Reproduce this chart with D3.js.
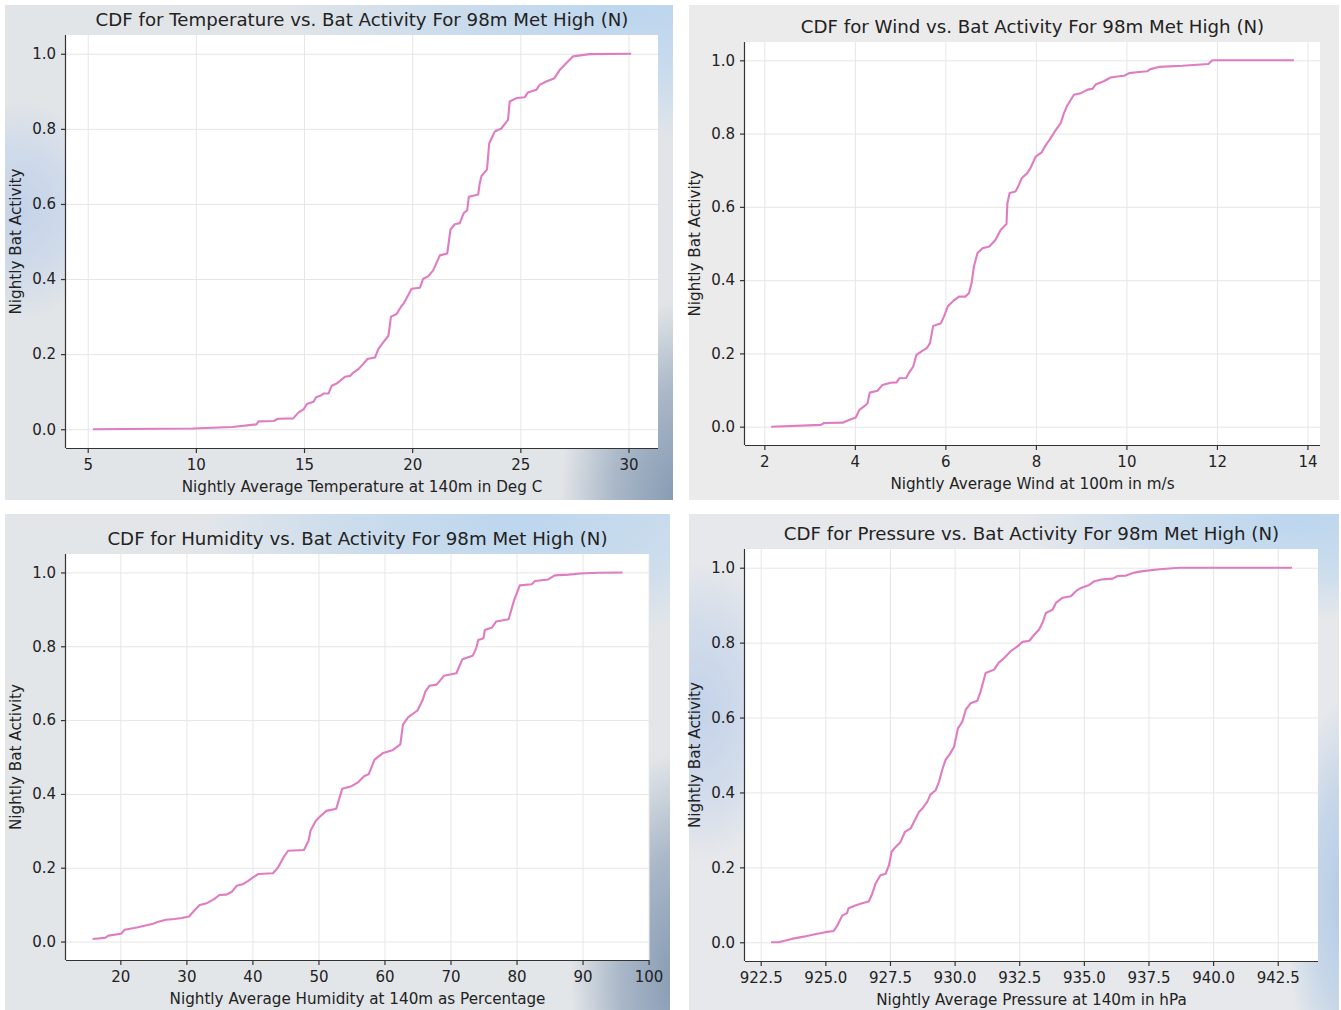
<!DOCTYPE html>
<html>
<head>
<meta charset="utf-8">
<script src="https://cdn.jsdelivr.net/npm/d3@7"></script>
<style>
    body { margin: 0; background: #ffffff; }
    svg { display: block; }
    .axis text { font-family: "DejaVu Sans", sans-serif; font-size: 15px; fill: #222; }
    .axis path, .axis line { stroke: #333; stroke-width: 1.2; }
    .grid line { stroke: #e6e6e6; stroke-width: 1; }
    .grid path { display: none; }
    .title, .label { font-family: "DejaVu Sans", sans-serif; fill: #222; }
    .title { font-size: 18.2px; }
    .label { font-size: 15.2px; }
</style>
</head>
<body>
<div id="chart"></div>
<script>

// CDF values (x value, cumulative share of nightly bat activity)
const tempX = [5.24, 9.85, 11.7, 12.8, 12.9, 13.6, 13.8, 14.5, 14.75, 14.98, 15.13, 15.44, 15.56, 15.75, 15.9, 16.13,
    16.28, 16.51, 16.67, 16.9, 17.13, 17.28, 17.51, 17.74, 17.93, 18.28, 18.44, 18.67, 18.9, 19.02, 19.28, 19.47,
    19.62, 19.77, 19.97, 20.36, 20.51, 20.74, 20.97, 21.28, 21.62, 21.77, 21.97, 22.2, 22.39, 22.54, 22.62, 23.05,
    23.12, 23.2, 23.46, 23.56, 23.82, 24.12, 24.43, 24.51, 24.82, 25.2, 25.35, 25.74, 25.89, 26.2, 26.58, 26.82,
    27.12, 27.43, 28.2, 30.12];
const tempY = [0, 0.002, 0.006, 0.013, 0.021, 0.022, 0.028, 0.029, 0.045, 0.053, 0.067, 0.073, 0.085, 0.089, 0.095, 0.095,
    0.116, 0.122, 0.129, 0.14, 0.142, 0.151, 0.16, 0.174, 0.187, 0.191, 0.214, 0.232, 0.249, 0.3, 0.307, 0.325,
    0.336, 0.352, 0.374, 0.377, 0.401, 0.407, 0.423, 0.463, 0.468, 0.532, 0.546, 0.549, 0.576, 0.583, 0.619, 0.625,
    0.654, 0.674, 0.692, 0.761, 0.793, 0.801, 0.824, 0.873, 0.882, 0.884, 0.897, 0.904, 0.917, 0.926, 0.935, 0.957,
    0.975, 0.993, 0.999, 1.0];

const windX = [2.15, 3.25, 3.32, 3.73, 3.87, 4.02, 4.1, 4.21, 4.28, 4.33, 4.5, 4.61, 4.79, 4.92, 4.98, 5.13, 5.2,
    5.29, 5.36, 5.49, 5.6, 5.66, 5.73, 5.9, 5.97, 6.05, 6.18, 6.3, 6.44, 6.52, 6.58, 6.63, 6.71, 6.82, 6.97, 7.11,
    7.22, 7.35, 7.37, 7.42, 7.55, 7.61, 7.69, 7.81, 7.88, 8.0, 8.13, 8.2, 8.3, 8.42, 8.55, 8.62, 8.69, 8.84, 9.01,
    9.14, 9.25, 9.32, 9.5, 9.65, 9.8, 9.95, 10.06, 10.28, 10.46, 10.53, 10.72, 11.24, 11.81, 11.9, 13.7];
const windY = [0, 0.005, 0.01, 0.011, 0.018, 0.025, 0.046, 0.056, 0.064, 0.093, 0.098, 0.114, 0.12, 0.121, 0.132, 0.133, 0.148,
    0.164, 0.196, 0.207, 0.216, 0.228, 0.275, 0.282, 0.301, 0.328, 0.344, 0.355, 0.355, 0.364, 0.392, 0.437, 0.474, 0.487, 0.492, 0.51,
    0.537, 0.553, 0.61, 0.638, 0.642, 0.656, 0.679, 0.692, 0.706, 0.738, 0.749, 0.765, 0.783, 0.806, 0.829, 0.856, 0.876, 0.906, 0.911,
    0.92, 0.922, 0.934, 0.943, 0.953, 0.956, 0.958, 0.965, 0.968, 0.97, 0.976, 0.982, 0.985, 0.99, 1.0, 1.0];

const humX = [15.78, 17.68, 18.2, 20.1, 20.65, 22.5, 24.97, 25.5, 26.9, 28.2, 29.3, 30.4, 31.2, 32.0, 33.1, 34.2, 35.0,
    36.05, 36.9, 37.6, 38.5, 39.3, 40.1, 40.9, 43.1, 43.9, 44.7, 45.4, 47.8, 48.5, 48.8, 49.6, 50.2, 51.2, 52.7, 53.6,
    55.0, 56.05, 56.9, 57.6, 58.5, 59.8, 61.2, 62.4, 62.8, 63.6, 65.0, 65.8, 66.2, 66.8, 67.9, 69.0, 70.9, 71.8, 73.35,
    73.9, 74.2, 75.0, 75.2, 76.3, 76.9, 78.8, 79.2, 79.6, 80.5, 82.3, 82.8, 84.8, 85.8, 87.9, 89.6, 92.3, 96.05];
const humY = [0.007, 0.01, 0.016, 0.021, 0.032, 0.038, 0.048, 0.052, 0.059, 0.061, 0.064, 0.068, 0.084, 0.099, 0.104, 0.115, 0.126,
    0.127, 0.135, 0.151, 0.155, 0.164, 0.174, 0.183, 0.185, 0.201, 0.228, 0.246, 0.248, 0.273, 0.3, 0.327, 0.338, 0.354, 0.36, 0.414,
    0.421, 0.432, 0.448, 0.453, 0.493, 0.511, 0.518, 0.534, 0.588, 0.608, 0.626, 0.655, 0.678, 0.693, 0.696, 0.72, 0.727, 0.765, 0.774,
    0.795, 0.817, 0.822, 0.844, 0.851, 0.867, 0.873, 0.898, 0.923, 0.965, 0.968, 0.977, 0.981, 0.992, 0.994, 0.997, 0.999, 1.0];

const presX = [922.9, 923.19, 923.7, 924.16, 924.55, 925.0, 925.32, 925.45, 925.65, 925.84, 925.9, 926.16, 926.42, 926.68,
    926.81, 926.94, 927.13, 927.33, 927.46, 927.56, 927.71, 927.91, 928.08, 928.3, 928.46, 928.62, 928.75, 928.94, 929.07,
    929.27, 929.4, 929.52, 929.65, 929.82, 929.98, 930.13, 930.3, 930.43, 930.62, 930.88, 931.01, 931.2, 931.53, 931.7,
    931.92, 932.17, 932.43, 932.63, 932.89, 933.08, 933.27, 933.4, 933.53, 933.79, 933.92, 934.18, 934.5, 934.7, 934.89,
    935.21, 935.41, 935.73, 936.12, 936.31, 936.63, 936.96, 937.28, 937.93, 938.7, 943.05];
const presY = [0, 0, 0.009, 0.015, 0.021, 0.027, 0.03, 0.043, 0.071, 0.078, 0.091, 0.098, 0.104, 0.109,
    0.129, 0.156, 0.179, 0.183, 0.205, 0.241, 0.254, 0.268, 0.295, 0.304, 0.326, 0.348, 0.357, 0.375, 0.395,
    0.406, 0.429, 0.46, 0.487, 0.503, 0.522, 0.571, 0.589, 0.621, 0.638, 0.645, 0.67, 0.719, 0.728, 0.746,
    0.759, 0.777, 0.79, 0.802, 0.805, 0.821, 0.835, 0.853, 0.879, 0.888, 0.906, 0.92, 0.924, 0.938, 0.946,
    0.954, 0.964, 0.969, 0.971, 0.978, 0.979, 0.987, 0.991, 0.996, 1.0, 1.0];

// tick labels
const cdfTicks = [0, 0.2, 0.4, 0.6, 0.8, 1.0];
const tempTicks = [5, 10, 15, 20, 25, 30];
const windTicks = [2, 4, 6, 8, 10, 12, 14];
const humTicks = [20, 30, 40, 50, 60, 70, 80, 90, 100];
const presTicks = [922.5, 925, 927.5, 930, 932.5, 935, 937.5, 940, 942.5];


class CdfChart {

    constructor(_svg, _config) {
        this.svg = _svg;
        this.config = _config;

        this.initVis();
    }

    initVis() {
        let vis = this;
        let c = vis.config;

        vis.data = c.xs.map((x, i) => ({ x: x, y: c.ys[i] }));

        // panel background (screenshot-like blurred gradient)
        vis.svg.select("defs").append("clipPath")
            .attr("id", c.id + "-bgclip")
            .append("rect")
            .attr("x", c.bg[0]).attr("y", c.bg[1])
            .attr("width", c.bg[2] - c.bg[0]).attr("height", c.bg[3] - c.bg[1]);

        vis.panel = vis.svg.append("g");
        vis.panel.append("rect")
            .attr("x", c.bg[0]).attr("y", c.bg[1])
            .attr("width", c.bg[2] - c.bg[0]).attr("height", c.bg[3] - c.bg[1])
            .attr("fill", c.base);
        vis.panel.append("g")
            .attr("clip-path", "url(#" + c.id + "-bgclip)")
            .selectAll("ellipse")
            .data(c.glows)
            .join("ellipse")
            .attr("cx", d => d.cx).attr("cy", d => d.cy)
            .attr("rx", d => d.rx).attr("ry", d => d.ry)
            .attr("fill", d => "url(#" + d.grad + ")");

        vis.width = c.right - c.left;
        vis.height = c.bottom - c.top;

        vis.g = vis.svg.append("g")
            .attr("transform", "translate(" + c.left + "," + c.top + ")");

        vis.g.append("rect")
            .attr("width", vis.width)
            .attr("height", vis.height)
            .attr("fill", "#ffffff");

        // Scales with matplotlib's 5% margins
        let ext = d3.extent(vis.data, d => d.x);
        let pad = (ext[1] - ext[0]) * 0.05;
        vis.x = d3.scaleLinear()
            .domain([ext[0] - pad, ext[1] + pad])
            .range([0, vis.width]);

        vis.y = d3.scaleLinear()
            .domain([-0.05, 1.05])
            .range([vis.height, 0]);

        // grid
        vis.g.append("g")
            .attr("class", "grid")
            .attr("transform", "translate(0," + vis.height + ")")
            .call(d3.axisBottom(vis.x).tickValues(c.ticks).tickSize(-vis.height).tickFormat(""));
        vis.g.append("g")
            .attr("class", "grid")
            .call(d3.axisLeft(vis.y).tickValues(cdfTicks).tickSize(-vis.width).tickFormat(""));

        // line
        vis.line = d3.line()
            .x(d => vis.x(d.x))
            .y(d => vis.y(d.y));

        vis.g.append("path")
            .datum(vis.data)
            .attr("fill", "none")
            .attr("stroke", "#e07cc1")
            .attr("stroke-width", 2.1)
            .attr("stroke-linejoin", "round")
            .attr("d", vis.line);

        // axes (left + bottom spines only)
        vis.xAxis = d3.axisBottom(vis.x)
            .tickValues(c.ticks)
            .tickSize(5)
            .tickPadding(6)
            .tickFormat(d3.format(c.fmt));
        vis.yAxis = d3.axisLeft(vis.y)
            .tickValues(cdfTicks)
            .tickSize(5)
            .tickPadding(5)
            .tickFormat(d3.format(".1f"));

        vis.g.append("g")
            .attr("class", "x-axis axis")
            .attr("transform", "translate(0," + vis.height + ")")
            .call(vis.xAxis)
            .call(g => g.select(".domain").attr("d", "M0,0.5H" + vis.width));

        vis.g.append("g")
            .attr("class", "y-axis axis")
            .call(vis.yAxis)
            .call(g => g.select(".domain").attr("d", "M-0.5,0V" + vis.height));

        // titles
        vis.g.append("text")
            .attr("class", "title")
            .attr("x", vis.width / 2)
            .attr("y", -9)
            .attr("text-anchor", "middle")
            .text(c.title);

        vis.g.append("text")
            .attr("class", "label")
            .attr("x", vis.width / 2)
            .attr("y", vis.height + 44)
            .attr("text-anchor", "middle")
            .text(c.xLabel);

        vis.g.append("text")
            .attr("class", "label")
            .attr("transform", "translate(" + (-45) + "," + (vis.height / 2) + ") rotate(-90)")
            .attr("text-anchor", "middle")
            .text("Nightly Bat Activity");
    }
}


let svg = d3.select("#chart").append("svg")
    .attr("width", 1341)
    .attr("height", 1010);

let defs = svg.append("defs");

// soft colour blobs for the backgrounds
const glowColors = {
    blue: "#b3cbe6",
    sky: "#bcd6ee",
    steel: "#8499b2",
    haze: "#c4d3ea"
};
Object.keys(glowColors).forEach(k => {
    let grad = defs.append("radialGradient").attr("id", "glow-" + k);
    grad.append("stop").attr("offset", "0%").attr("stop-color", glowColors[k]).attr("stop-opacity", 1);
    grad.append("stop").attr("offset", "55%").attr("stop-color", glowColors[k]).attr("stop-opacity", 0.6);
    grad.append("stop").attr("offset", "100%").attr("stop-color", glowColors[k]).attr("stop-opacity", 0);
});

const panels = [
    {
        id: "temp", xs: tempX, ys: tempY, ticks: tempTicks, fmt: "d",
        title: "CDF for Temperature vs. Bat Activity For 98m Met High (N)",
        xLabel: "Nightly Average Temperature at 140m in Deg C",
        bg: [5, 5, 673, 500], left: 66, right: 658, top: 35, bottom: 448,
        base: "#e2e5e8",
        glows: [
            { cx: 640, cy: 10, rx: 360, ry: 130, grad: "glow-sky" },
            { cx: 20, cy: 210, rx: 90, ry: 110, grad: "glow-haze" },
            { cx: 680, cy: 500, rx: 120, ry: 200, grad: "glow-steel" }
        ]
    },
    {
        id: "wind", xs: windX, ys: windY, ticks: windTicks, fmt: "d",
        title: "CDF for Wind vs. Bat Activity For 98m Met High (N)",
        xLabel: "Nightly Average Wind at 100m in m/s",
        bg: [689, 5, 1339, 500], left: 745, right: 1320, top: 42, bottom: 445,
        base: "#ebebeb",
        glows: []
    },
    {
        id: "hum", xs: humX, ys: humY, ticks: humTicks, fmt: "d",
        title: "CDF for Humidity vs. Bat Activity For 98m Met High (N)",
        xLabel: "Nightly Average Humidity at 140m as Percentage",
        bg: [5, 514, 670, 1010], left: 66, right: 649, top: 554, bottom: 960,
        base: "#e3e6e9",
        glows: [
            { cx: 520, cy: 520, rx: 320, ry: 120, grad: "glow-sky" },
            { cx: 680, cy: 980, rx: 110, ry: 230, grad: "glow-steel" }
        ]
    },
    {
        id: "pres", xs: presX, ys: presY, ticks: presTicks, fmt: ".1f",
        title: "CDF for Pressure vs. Bat Activity For 98m Met High (N)",
        xLabel: "Nightly Average Pressure at 140m in hPa",
        bg: [689, 514, 1339, 1010], left: 745, right: 1318, top: 549, bottom: 961,
        base: "#e6e8eb",
        glows: [
            { cx: 1300, cy: 520, rx: 280, ry: 100, grad: "glow-sky" },
            { cx: 700, cy: 710, rx: 90, ry: 150, grad: "glow-haze" },
            { cx: 1345, cy: 900, rx: 60, ry: 200, grad: "glow-blue" }
        ]
    }
];

panels.forEach(p => new CdfChart(svg, p));

</script>
</body>
</html>
